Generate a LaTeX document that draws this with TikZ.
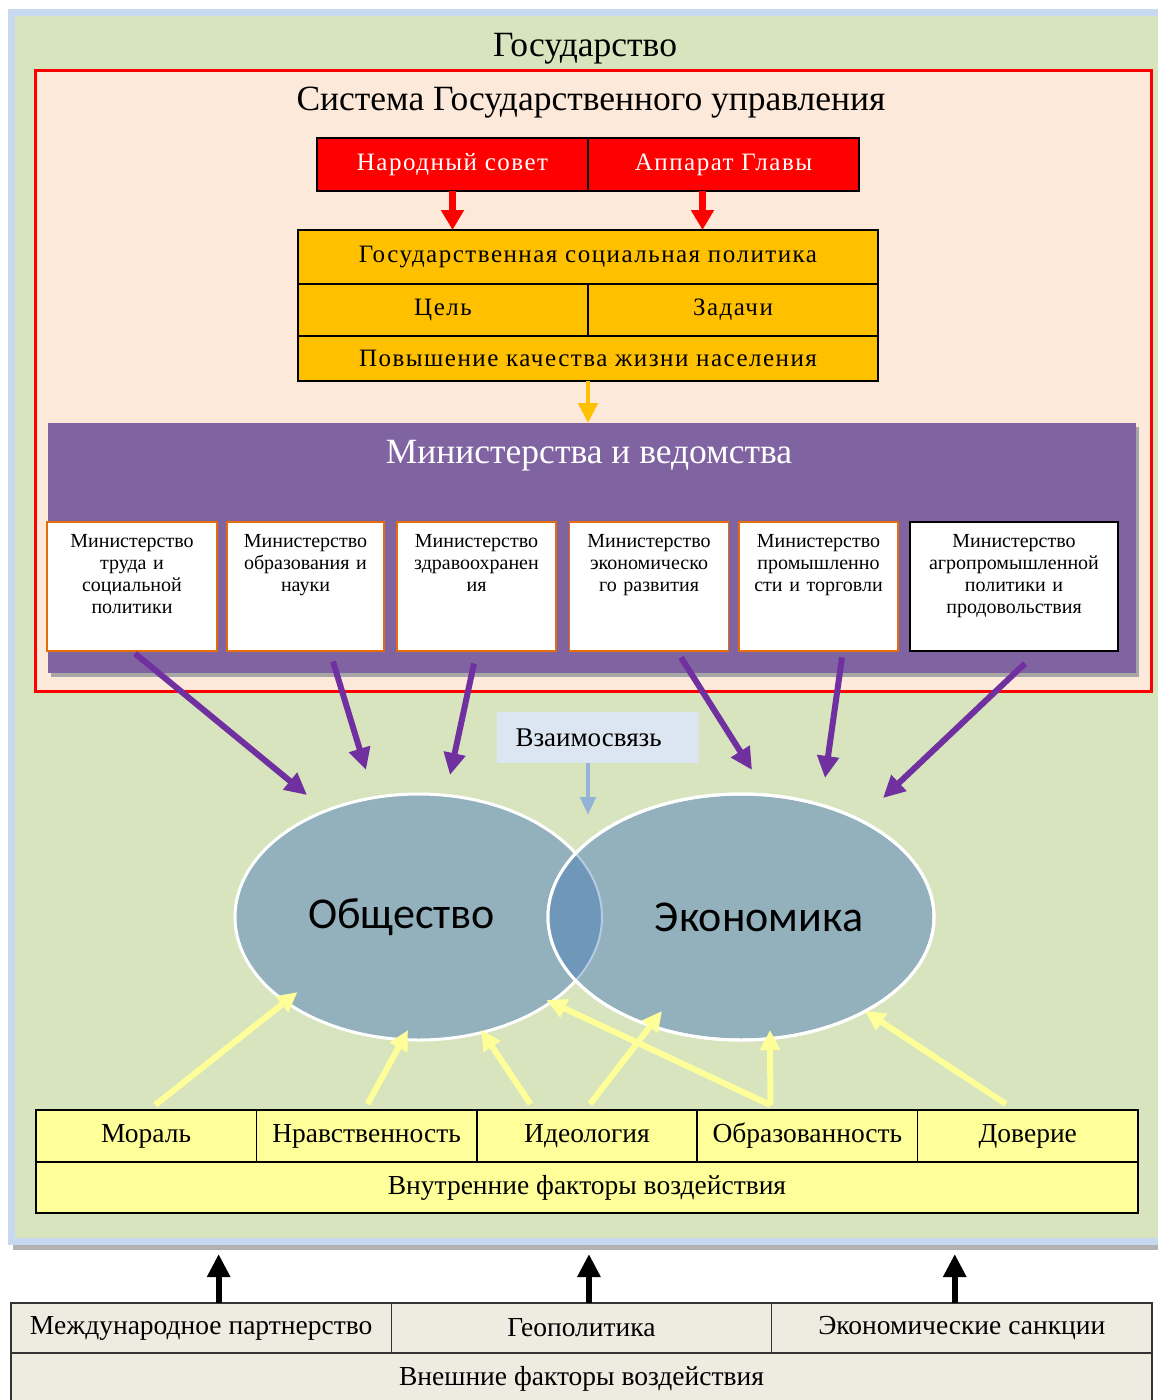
\documentclass[tikz,border=0pt]{standalone}
\usepackage{fontspec}
\setmainfont{Liberation Serif}
\newfontfamily\widefont[LetterSpace=6]{Liberation Serif}
\newfontfamily\ovalfont{Carlito}
\usetikzlibrary{positioning, calc, shapes.geometric, arrows.meta, shadows}

\definecolor{stateblue}{HTML}{C6D9F1}
\definecolor{stategreen}{HTML}{D7E4BD}
\definecolor{govpeach}{HTML}{FDE9D9}
\definecolor{govred}{HTML}{FF0000}
\definecolor{polorange}{HTML}{FFC000}
\definecolor{panelpurple}{HTML}{8064A2}
\definecolor{minorange}{HTML}{E46C0A}
\definecolor{arrowpurple}{HTML}{7030A0}
\definecolor{linkfill}{HTML}{DCE6F2}
\definecolor{linkblue}{HTML}{95B3D7}
\definecolor{ovalfill}{HTML}{93B1BD}
\definecolor{ovalmix}{HTML}{6F97BA}
\definecolor{intyellow}{HTML}{FFFF99}
\definecolor{arrowyellow}{HTML}{FFFF99}
\definecolor{extgray}{HTML}{EEECE1}

\tikzset{
  stateframe/.style={draw=stateblue, line width=7pt, fill=stategreen, anchor=north west,
    drop shadow={shadow xshift=1pt, shadow yshift=-8pt, fill=black!30, opacity=1}},
  govframe/.style={draw=govred, line width=3pt, fill=govpeach, anchor=north west},
  heading/.style={inner sep=0pt, font=\fontsize{35.5}{40}\selectfont},
  redcell/.style={draw=black, line width=1.5pt, fill=govred, text=white, outer sep=0pt,
    minimum width=271pt, minimum height=53pt, inner sep=0pt,
    font=\widefont\fontsize{25}{30}\selectfont},
  policell/.style={draw=black, line width=1.5pt, fill=polorange, outer sep=0pt,
    minimum width=580pt, inner sep=0pt,
    font=\widefont\fontsize{25}{28}\selectfont},
  panel/.style={fill=panelpurple, anchor=north west,
    drop shadow={shadow xshift=3pt, shadow yshift=-4pt, fill=black!35, opacity=1}},
  minbox/.style={draw=minorange, line width=1.5pt, fill=white, anchor=north,
    minimum height=129pt, inner xsep=3pt, inner ysep=0pt,
    text height=26pt, text depth=103pt, align=center,
    font=\fontsize{20}{22}\selectfont},
  oval/.style={ellipse, fill=ovalfill, draw=white, line width=3pt,
    minimum height=246pt, inner sep=0pt,
    font=\ovalfont\fontsize{44}{50}\selectfont},
  linkbox/.style={fill=linkfill, minimum height=51pt, text width=164pt,
    inner xsep=19pt, inner ysep=0pt, align=left,
    font=\fontsize{27}{30}\selectfont},
  intcell/.style={draw=black, line width=1.5pt, fill=intyellow, outer sep=0pt,
    minimum width=220.4pt, minimum height=52pt, inner sep=0pt,
    font=\fontsize{27.5}{30}\selectfont},
  extcell/.style={draw=black!80, line width=1.5pt, fill=extgray, outer sep=0pt,
    minimum width=380.3pt, minimum height=50pt, inner sep=0pt,
    font=\fontsize{27.5}{30}\selectfont},
  redarrow/.style={draw=govred, line width=7pt, -{Triangle[length=20pt, width=22pt]}},
  orangearrow/.style={draw=polorange, line width=4.5pt, -{Triangle[length=20pt, width=19pt]}},
  purplearrow/.style={draw=arrowpurple, line width=6pt, -{Triangle[length=22pt, width=21pt]}},
  linkarrow/.style={draw=linkblue, line width=4.5pt, -{Triangle[length=18pt, width=15pt]}},
  yellowarrow/.style={draw=arrowyellow, line width=6pt, -{Triangle[length=20pt, width=19pt]}},
  blackarrow/.style={draw=black, line width=6pt, -{Triangle[length=23pt, width=22pt]}}
}

\begin{document}
\begin{tikzpicture}[x=1pt, y=-1pt]
  \useasboundingbox (0,0) rectangle (1157,1400);

  % State
  \node[stateframe, minimum width=1160pt, minimum height=1229pt] (state) at (8,9) {};
  \node[heading] (statename) at (585,49) {Государство};

  % Government system
  \node[govframe, minimum width=1116pt, minimum height=621pt] (govsys) at (34,69) {};
  \node[heading] (govname) at (591,103) {Система Государственного управления};

  \node[redcell, anchor=north west] (sovet) at (317,138) {Народный совет};
  \node[redcell, right=0pt of sovet] (apparat) {Аппарат Главы};

  \node[policell, minimum height=54pt, anchor=north west] (policy) at (298,230) {Государственная социальная политика};
  \node[policell, minimum width=290pt, minimum height=52pt, anchor=north west] (goal) at (policy.south west) {Цель};
  \node[policell, minimum width=290pt, minimum height=52pt, right=0pt of goal] (tasks) {Задачи};
  \node[policell, minimum height=45pt, anchor=north west] (quality) at (goal.south west) {Повышение качества жизни населения};

  \draw[redarrow] (sovet.south) -- (sovet.south |- policy.north);
  \draw[redarrow] ($(apparat.south)+(-21,0)$) -- ($(apparat.south |- policy.north)+(-21,0)$);

  % Ministries
  \node[panel, minimum width=1088pt, minimum height=250pt] (panel) at (48,423) {};
  \node[heading, text=white] (mintitle) at (589,456) {Министерства и ведомства};
  \draw[orangearrow] (quality.south) -- (quality.south |- panel.north);

  \node[minbox, minimum width=170pt, text width=164pt] (labour) at (132,521) {Министерство\\труда и\\социальной\\политики};
  \node[minbox, minimum width=157pt, text width=151pt] (education) at (305.5,521) {Министерство\\образования и\\науки};
  \node[minbox, minimum width=159pt, text width=153pt] (health) at (476.5,521) {Министерство\\здравоохранен\\ия};
  \node[minbox, minimum width=159pt, text width=153pt] (economy) at (649,521) {Министерство\\экономическо\\го развития};
  \node[minbox, minimum width=159pt, text width=153pt] (industry) at (818.5,521) {Министерство\\промышленно\\сти и торговли};
  \node[minbox, draw=black, minimum width=208pt, text width=202pt] (agro) at (1014,521) {Министерство\\агропромышленной\\политики и\\продовольствия};

  % Society and economy
  \node[oval, minimum width=367pt] (society) at (418.5,917) {\hspace*{-34pt}Общество};
  \node[oval, minimum width=386pt] (economics) at (741,917) {\hspace*{36pt}Экономика};
  \begin{scope}
    \clip (society.center) ellipse [x radius=183.5pt, y radius=123pt];
    \fill[ovalmix] (economics.center) ellipse [x radius=193pt, y radius=123pt];
  \end{scope}
  \begin{scope}
    \clip (economics.center) ellipse [x radius=193pt, y radius=123pt];
    \draw[linkblue!70!white, line width=2pt] (society.center) ellipse [x radius=183.5pt, y radius=123pt];
  \end{scope}
  \draw[white, line width=3pt] (economics.center) ellipse [x radius=193pt, y radius=123pt];

  \node[linkbox] (link) at (597.5,737.5) {Взаимосвязь};
  \coordinate (lens) at (588,815);
  \draw[linkarrow] (link.south -| lens) -- (lens);

  \draw[purplearrow] ($(labour.south)+(3,2)$) -- ($(society.center)+(-111.5,-122)$);
  \draw[purplearrow] ($(education.south)+(27.5,10)$) -- ($(society.center)+(-52.5,-147)$);
  \draw[purplearrow] ($(health.south)+(-2.5,12)$) -- ($(society.center)+(31.5,-142)$);
  \draw[purplearrow] ($(economy.south)+(32,6)$) -- ($(economics.center)+(11,-147)$);
  \draw[purplearrow] ($(industry.south)+(23.5,6)$) -- ($(economics.center)+(84,-139)$);
  \draw[purplearrow] ($(agro.south)+(11,12)$) -- ($(economics.center)+(142,-119)$);

  % Internal factors
  \node[intcell, anchor=north west] (moral) at (36,1110) {Мораль};
  \node[intcell, right=0pt of moral] (ethics) {Нравственность};
  \node[intcell, right=0pt of ethics] (ideology) {Идеология};
  \node[intcell, right=0pt of ideology] (literacy) {Образованность};
  \node[intcell, right=0pt of literacy] (trust) {Доверие};
  \node[intcell, minimum width=1102pt, minimum height=51pt, anchor=north west] (internal) at (moral.south west) {Внутренние факторы воздействия};

  \draw[yellowarrow] ($(moral.north)+(9,-5)$) -- ($(society.center)+(-121,75)$);
  \draw[yellowarrow] ($(ethics.north)+(1,-6)$) -- ($(society.center)+(-10.5,113)$);
  \draw[yellowarrow] ($(ideology.north)+(-56.5,-6)$) -- ($(society.center)+(62.5,113)$);
  \draw[yellowarrow] ($(ideology.north)+(3,-6)$) -- ($(economics.center)+(-79,94)$);
  \draw[yellowarrow] ($(literacy.north)+(-37,-5)$) -- ($(economics.center)+(29,113)$);
  \draw[yellowarrow] ($(literacy.north)+(-37,-5)$) -- ($(society.center)+(128,83)$);
  \draw[yellowarrow] ($(trust.north)+(-22,-6)$) -- ($(economics.center)+(124,94)$);

  % External factors
  \node[extcell, anchor=north west] (partner) at (11,1303) {Международное партнерство};
  \node[extcell, right=0pt of partner] (geopolitics) {Геополитика};
  \node[extcell, right=0pt of geopolitics] (sanctions) {Экономические санкции};
  \node[extcell, minimum width=1141pt, minimum height=52pt, anchor=north west] (external) at (partner.south west) {Внешние факторы воздействия};

  \draw[blackarrow] ($(partner.north)+(17.5,0)$) -- ($(partner.north |- state.south)+(17.5,9)$);
  \draw[blackarrow] ($(geopolitics.north)+(7.5,0)$) -- ($(geopolitics.north |- state.south)+(7.5,9)$);
  \draw[blackarrow] ($(sanctions.north)+(-7,0)$) -- ($(sanctions.north |- state.south)+(-7,9)$);
\end{tikzpicture}
\end{document}
